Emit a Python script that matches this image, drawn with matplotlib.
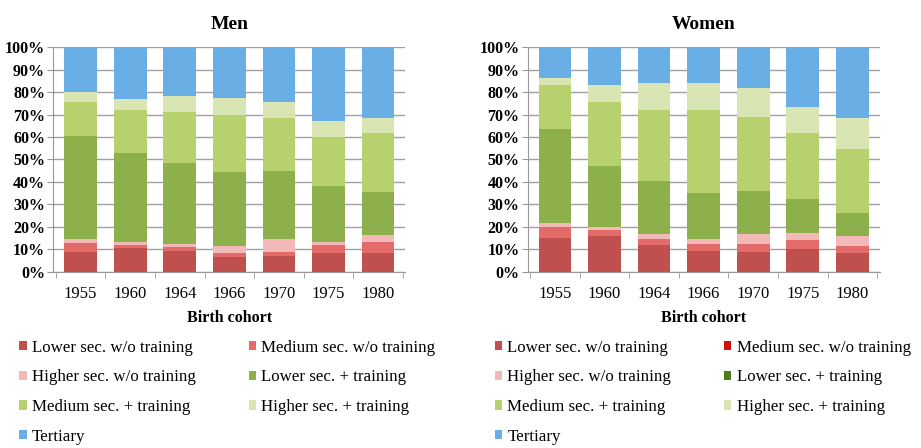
import numpy as np
import matplotlib
matplotlib.use("Agg")
import matplotlib.pyplot as plt
from matplotlib.patches import Patch

plt.rcParams['font.family'] = ['Liberation Serif', 'DejaVu Serif']

kohorty = ["1955", "1960", "1964", "1966", "1970", "1975", "1980"]
kategorie = ["Lower sec. w/o training", "Medium sec. w/o training",
             "Higher sec. w/o training", "Lower sec. + training",
             "Medium sec. + training", "Higher sec. + training", "Tertiary"]

# udzialy w % (od dolu do gory)
men_lower_wo = [9.0, 10.5, 9.5, 6.8, 7.1, 8.3, 8.6]
men_medium_wo = [3.7, 1.5, 1.5, 1.5, 1.9, 3.7, 4.9]
men_higher_wo = [1.8, 1.5, 1.4, 3.4, 5.5, 1.5, 2.9]
men_lower_tr = [45.9, 39.2, 35.9, 32.9, 30.4, 24.9, 19.1]
men_medium_tr = [15.2, 19.2, 22.9, 25.3, 23.5, 21.7, 26.1]
men_higher_tr = [4.3, 5.2, 7.1, 7.6, 7.2, 7.1, 6.9]
men_tertiary = [20.1, 22.9, 21.7, 22.5, 24.4, 32.8, 31.5]

women_lower_wo = [15.0, 16.0, 12.0, 9.2, 8.8, 10.0, 8.2]
women_medium_wo = [5.0, 2.8, 2.5, 3.1, 3.5, 4.2, 3.3]
women_higher_wo = [1.7, 1.2, 2.3, 2.2, 4.5, 3.1, 4.3]
women_lower_tr = [41.8, 27.1, 23.7, 20.8, 19.2, 15.0, 10.6]
women_medium_tr = [19.8, 28.5, 31.4, 36.6, 33.0, 29.3, 28.1]
women_higher_tr = [3.0, 7.7, 12.1, 12.1, 12.8, 11.8, 14.0]
women_tertiary = [13.7, 16.7, 16.0, 16.0, 18.2, 26.6, 31.5]

kolory = ["#C0504D", "#E36C6A", "#F2B9B8", "#8EB04C", "#B6D16D", "#D9E5B3", "#6AAEE6"]
# w legendzie kobiet dwa kolory sa inne niz na slupkach
kolory_leg_women = ["#C0504D", "#D01010", "#F2B9B8", "#4F7A22", "#B6D16D", "#D9E5B3", "#6AAEE6"]

men = [men_lower_wo, men_medium_wo, men_higher_wo, men_lower_tr,
       men_medium_tr, men_higher_tr, men_tertiary]
women = [women_lower_wo, women_medium_wo, women_higher_wo, women_lower_tr,
         women_medium_tr, women_higher_tr, women_tertiary]


def rysuj(ax, dane, tytul):
    x = np.arange(len(kohorty))
    dol = np.zeros(len(kohorty))
    for seria, kolor in zip(dane, kolory):
        ax.bar(x, seria, bottom=dol, width=0.66, color=kolor, zorder=3)
        dol += np.array(seria)
    ax.set_xlim(-0.55, len(kohorty) - 0.45)
    ax.set_ylim(0, 100)
    ax.set_yticks(range(0, 101, 10))
    ax.set_yticklabels([f"{v}%" for v in range(0, 101, 10)], fontsize=11.5, fontweight="bold")
    ax.set_xticks(x)
    ax.set_xticklabels(kohorty, fontsize=12)
    ax.set_xticks(np.arange(-0.5, len(kohorty)), minor=True)
    ax.tick_params(axis="x", which="major", length=0, pad=10)
    ax.tick_params(axis="x", which="minor", length=4, color="#999999")
    ax.tick_params(axis="y", length=4, color="#999999", pad=2)
    ax.grid(axis="y", color="#A0A0A0", linewidth=1, zorder=0)
    for s in ["top", "right"]:
        ax.spines[s].set_visible(False)
    ax.spines["left"].set_color("#999999")
    ax.spines["bottom"].set_color("#999999")
    ax.set_title(tytul, fontsize=14, fontweight="bold", pad=13)
    ax.set_xlabel("Birth cohort", fontsize=11.5, fontweight="bold", labelpad=6)


fig = plt.figure(figsize=(9.21, 4.48), dpi=100)
ax1 = fig.add_axes([0.058, 0.393, 0.382, 0.502])
ax2 = fig.add_axes([0.573, 0.393, 0.382, 0.502])
rysuj(ax1, men, "Men")
rysuj(ax2, women, "Women")

uchwyty_m = [Patch(facecolor=k, edgecolor="none") for k in kolory]
uchwyty_w = [Patch(facecolor=k, edgecolor="none") for k in kolory_leg_women]
kolejnosc = [0, 2, 4, 6, 1, 3, 5]
for uchwyty, x0 in [(uchwyty_m, 0.021), (uchwyty_w, 0.537)]:
    fig.legend([uchwyty[i] for i in kolejnosc], [kategorie[i] for i in kolejnosc],
               loc="upper left", bbox_to_anchor=(x0, 0.242), ncol=2, frameon=False,
               fontsize=12.2, handlelength=0.45, handleheight=0.45, handletextpad=0.3,
               columnspacing=3.11, labelspacing=0.81, borderaxespad=0, borderpad=0)

fig.savefig("out.png", dpi=100)
